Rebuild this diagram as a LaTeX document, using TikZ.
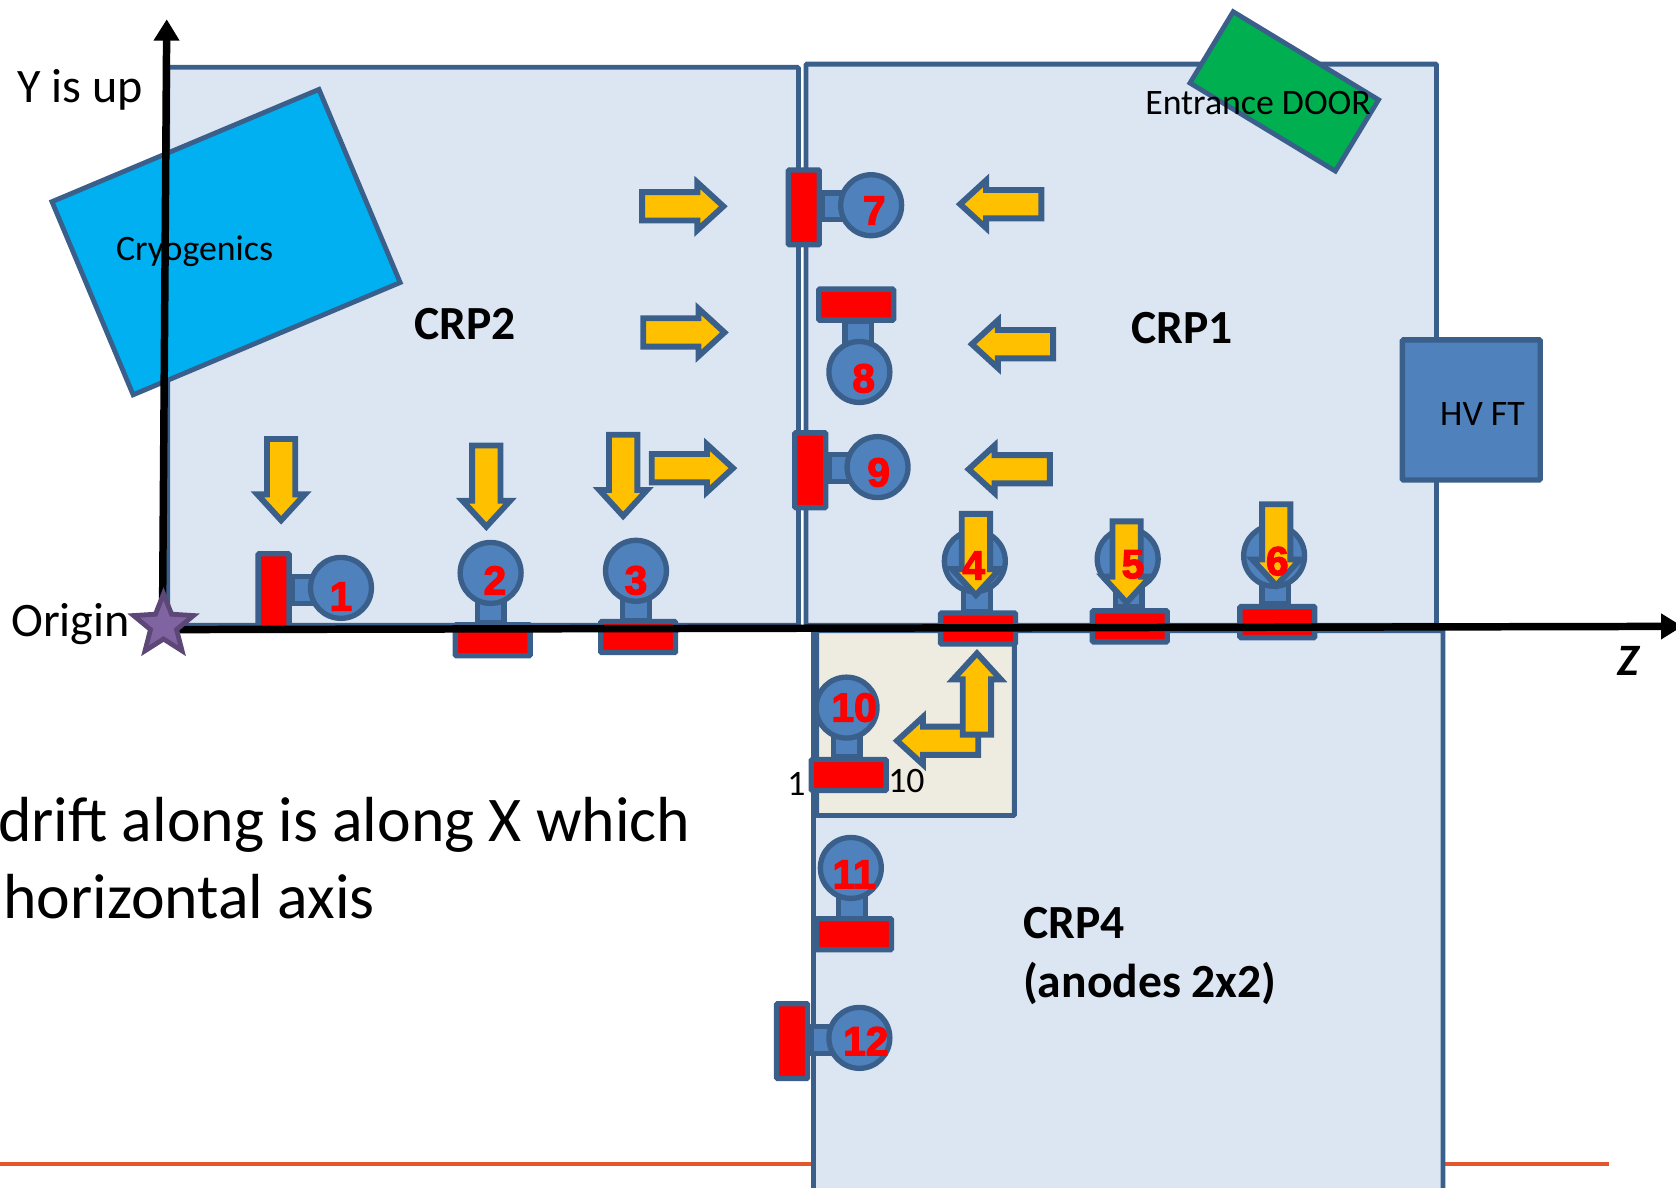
\documentclass[tikz,border=0pt]{standalone}
\usepackage{fontspec}
\setmainfont{Carlito}
\newfontfamily\numfont[BoldFeatures={FakeBold=3}]{Liberation Sans}
\usepackage{xcolor,tikz}
\usetikzlibrary{arrows.meta,positioning,shapes.geometric,shapes.arrows}
\definecolor{edgeblue}{HTML}{3A5F8B}
\definecolor{panelblue}{HTML}{DCE6F2}
\definecolor{midblue}{HTML}{4F81BD}
\definecolor{beige}{HTML}{EEECE1}
\definecolor{cyanbox}{HTML}{00B0F0}
\definecolor{doorgreen}{HTML}{00B050}
\definecolor{arrowgold}{HTML}{FFC000}
\definecolor{ruleorange}{HTML}{E4572E}
\definecolor{starfill}{HTML}{8064A2}
\definecolor{staredge}{HTML}{5C4776}
\begin{document}
\begin{tikzpicture}[x=1pt,y=-1pt,
panel/.style={draw=edgeblue,line width=4.5pt,rounded corners=1pt,inner sep=0pt},
bar/.style={draw=edgeblue,fill=red,line width=5pt,rounded corners=1pt,inner sep=0pt},
hbar/.style={bar,minimum width=70pt,minimum height=29pt},
vbar/.style={bar,minimum width=29pt,minimum height=70pt},
neck/.style={draw=edgeblue,fill=midblue,line width=5pt,inner sep=0pt,minimum width=25pt,minimum height=25pt},
head/.style={circle,draw=edgeblue,fill=midblue,line width=5pt,inner sep=0pt,minimum size=57pt},
num/.style={text=red,font=\numfont\bfseries\fontsize{38}{38}\selectfont,inner sep=0pt},
blockarrow/.style={single arrow,anchor=tail,draw=edgeblue,fill=arrowgold,line width=5.5pt,inner sep=0pt,inner ysep=10.5pt,minimum height=76pt,minimum width=37pt,single arrow head extend=9pt,single arrow tip angle=85},
lab/.style={font=\fontsize{33.5}{33.5}\selectfont,inner sep=0pt},
big/.style={font=\fontsize{45}{45}\selectfont,inner sep=0pt},
crp/.style={font=\bfseries\fontsize{44.5}{44.5}\selectfont,inner sep=0pt,align=left},
note/.style={font=\fontsize{59.6}{60}\selectfont,inner sep=0pt,anchor=west},
axis/.style={line width=7pt,-{Triangle[length=20pt,width=23pt]}}]
\clip (0,0) rectangle (1568,1111.4);
\coordinate (ruleA) at (0,1089);
\coordinate (ruleB) at (1505,1089);
\draw[ruleorange,line width=4pt] (ruleA)--(ruleB);
\node[panel,fill=panelblue,minimum width=590pt,minimum height=522pt] (crp2) at (452,324) {};
\node[panel,fill=panelblue,minimum width=590pt,minimum height=525pt] (crp1) at (1049,322.5) {};
\node[panel,fill=panelblue,minimum width=589pt,minimum height=560pt] (crp4) at (1055.5,870) {};
\node[panel,fill=beige,minimum width=185pt,minimum height=173pt] (corner) at (856.5,676.5) {};
\node[panel,fill=doorgreen,rounded corners=0pt,minimum width=159pt,minimum height=78pt,rotate=-31.2] (door) at (1201.5,85.5) {};
\node[panel,fill=cyanbox,rounded corners=0pt,minimum width=271pt,minimum height=196pt,rotate=22.8] (cryo) at (211.5,226.5) {};
\node[panel,fill=midblue,line width=5pt,minimum width=129pt,minimum height=131pt] (hvft) at (1376.5,383.5) {};
\foreach \n/\nx/\ny/\bx/\by/\cx/\cy in {1/286/552/256/553/319/550,7/782/193/752/194/815/192,9/788/438/758/440/821/437,12/772/973/741/974/804/971}{
\node[neck] (neck\n) at (\nx,\ny) {};
\node[vbar] (bar\n) at (\bx,\by) {};
\node[head] (head\n) at (\cx,\cy) {};
}
\foreach \n/\nx/\ny/\bx/\by/\cx/\cy in {2/459/570/461/599/459/536,3/595/568/597/596/595/534,4/914/560/915/588/912/525,5/1056/555/1057/586/1055/523,6/1193/552/1195/582/1192/520,8/803/313/801/285/804/348,10/792/695/794/725/792/662,11/797/847/799/874/796/812}{
\node[neck] (neck\n) at (\nx,\ny) {};
\node[hbar] (bar\n) at (\bx,\by) {};
\node[head] (head\n) at (\cx,\cy) {};
}
\foreach \n/\x/\y/\a in {a/598/193/0,b/599/311/0,c/607/438/0,d/977/191/180,e/988/322/180,f/985/439/180,g/263/408/-90,h/455/414/-90,i/583/404/-90,j/913/478/-90,k/1054/485/-90,l/1194/469/-90,m/918/693/180,n/914/690/90}{
\node[blockarrow,rotate=\a] (arr\n) at (\x,\y) {};
}
\foreach \n/\x/\y in {1/319/558,2/463/543,3/595/543,4/911/529,5/1060/528,6/1195/525,7/818/197,8/808/354,9/822/442,10/799/662,11/799/818,12/810/974}{
\node[num] (num\n) at (\x,\y) {\n};
}
\coordinate (ytail) at (152,585);
\coordinate (ytip) at (156,18);
\coordinate (ztail) at (165,589);
\coordinate (ztip) at (1574,586);
\draw[black,opacity=.12,line width=5pt,yshift=-5pt] (ztail)--(ztip);
\draw[axis] (ytail)--(ytip);
\draw[axis] (ztail)--(ztip);
\node[star,star points=5,star point ratio=2.3,draw=staredge,fill=starfill,line width=4.5pt,inner sep=0pt,minimum size=59pt] (origin) at (153,585) {};
\node[lab] (cryolab) at (182,235) {Cryogenics};
\node[lab] (doorlab) at (1177,96) {Entrance DOOR};
\node[lab] (hvlab) at (1387,387) {HV FT};
\node[lab] (pinA) at (745,733) {1};
\node[lab] (pinB) at (848,731) {10};
\node[big] (ylab) at (75,84) {Y is up};
\node[big] (originlab) at (66,584) {Origin};
\node[crp] (crp2lab) at (435,303) {CRP2};
\node[crp] (crp1lab) at (1106,307) {CRP1};
\node[crp,anchor=north west] (crp4lab) at (957,849) {CRP4\\[10pt](anodes 2x2)};
\node[crp,font=\bfseries\itshape\fontsize{42}{42}\selectfont] (zlab) at (1523,618) {Z};
\node[note] (noteA) at (-2,772) {drift along is along X which};
\node[note] (noteB) at (3,839) {horizontal axis};
\end{tikzpicture}
\end{document}
